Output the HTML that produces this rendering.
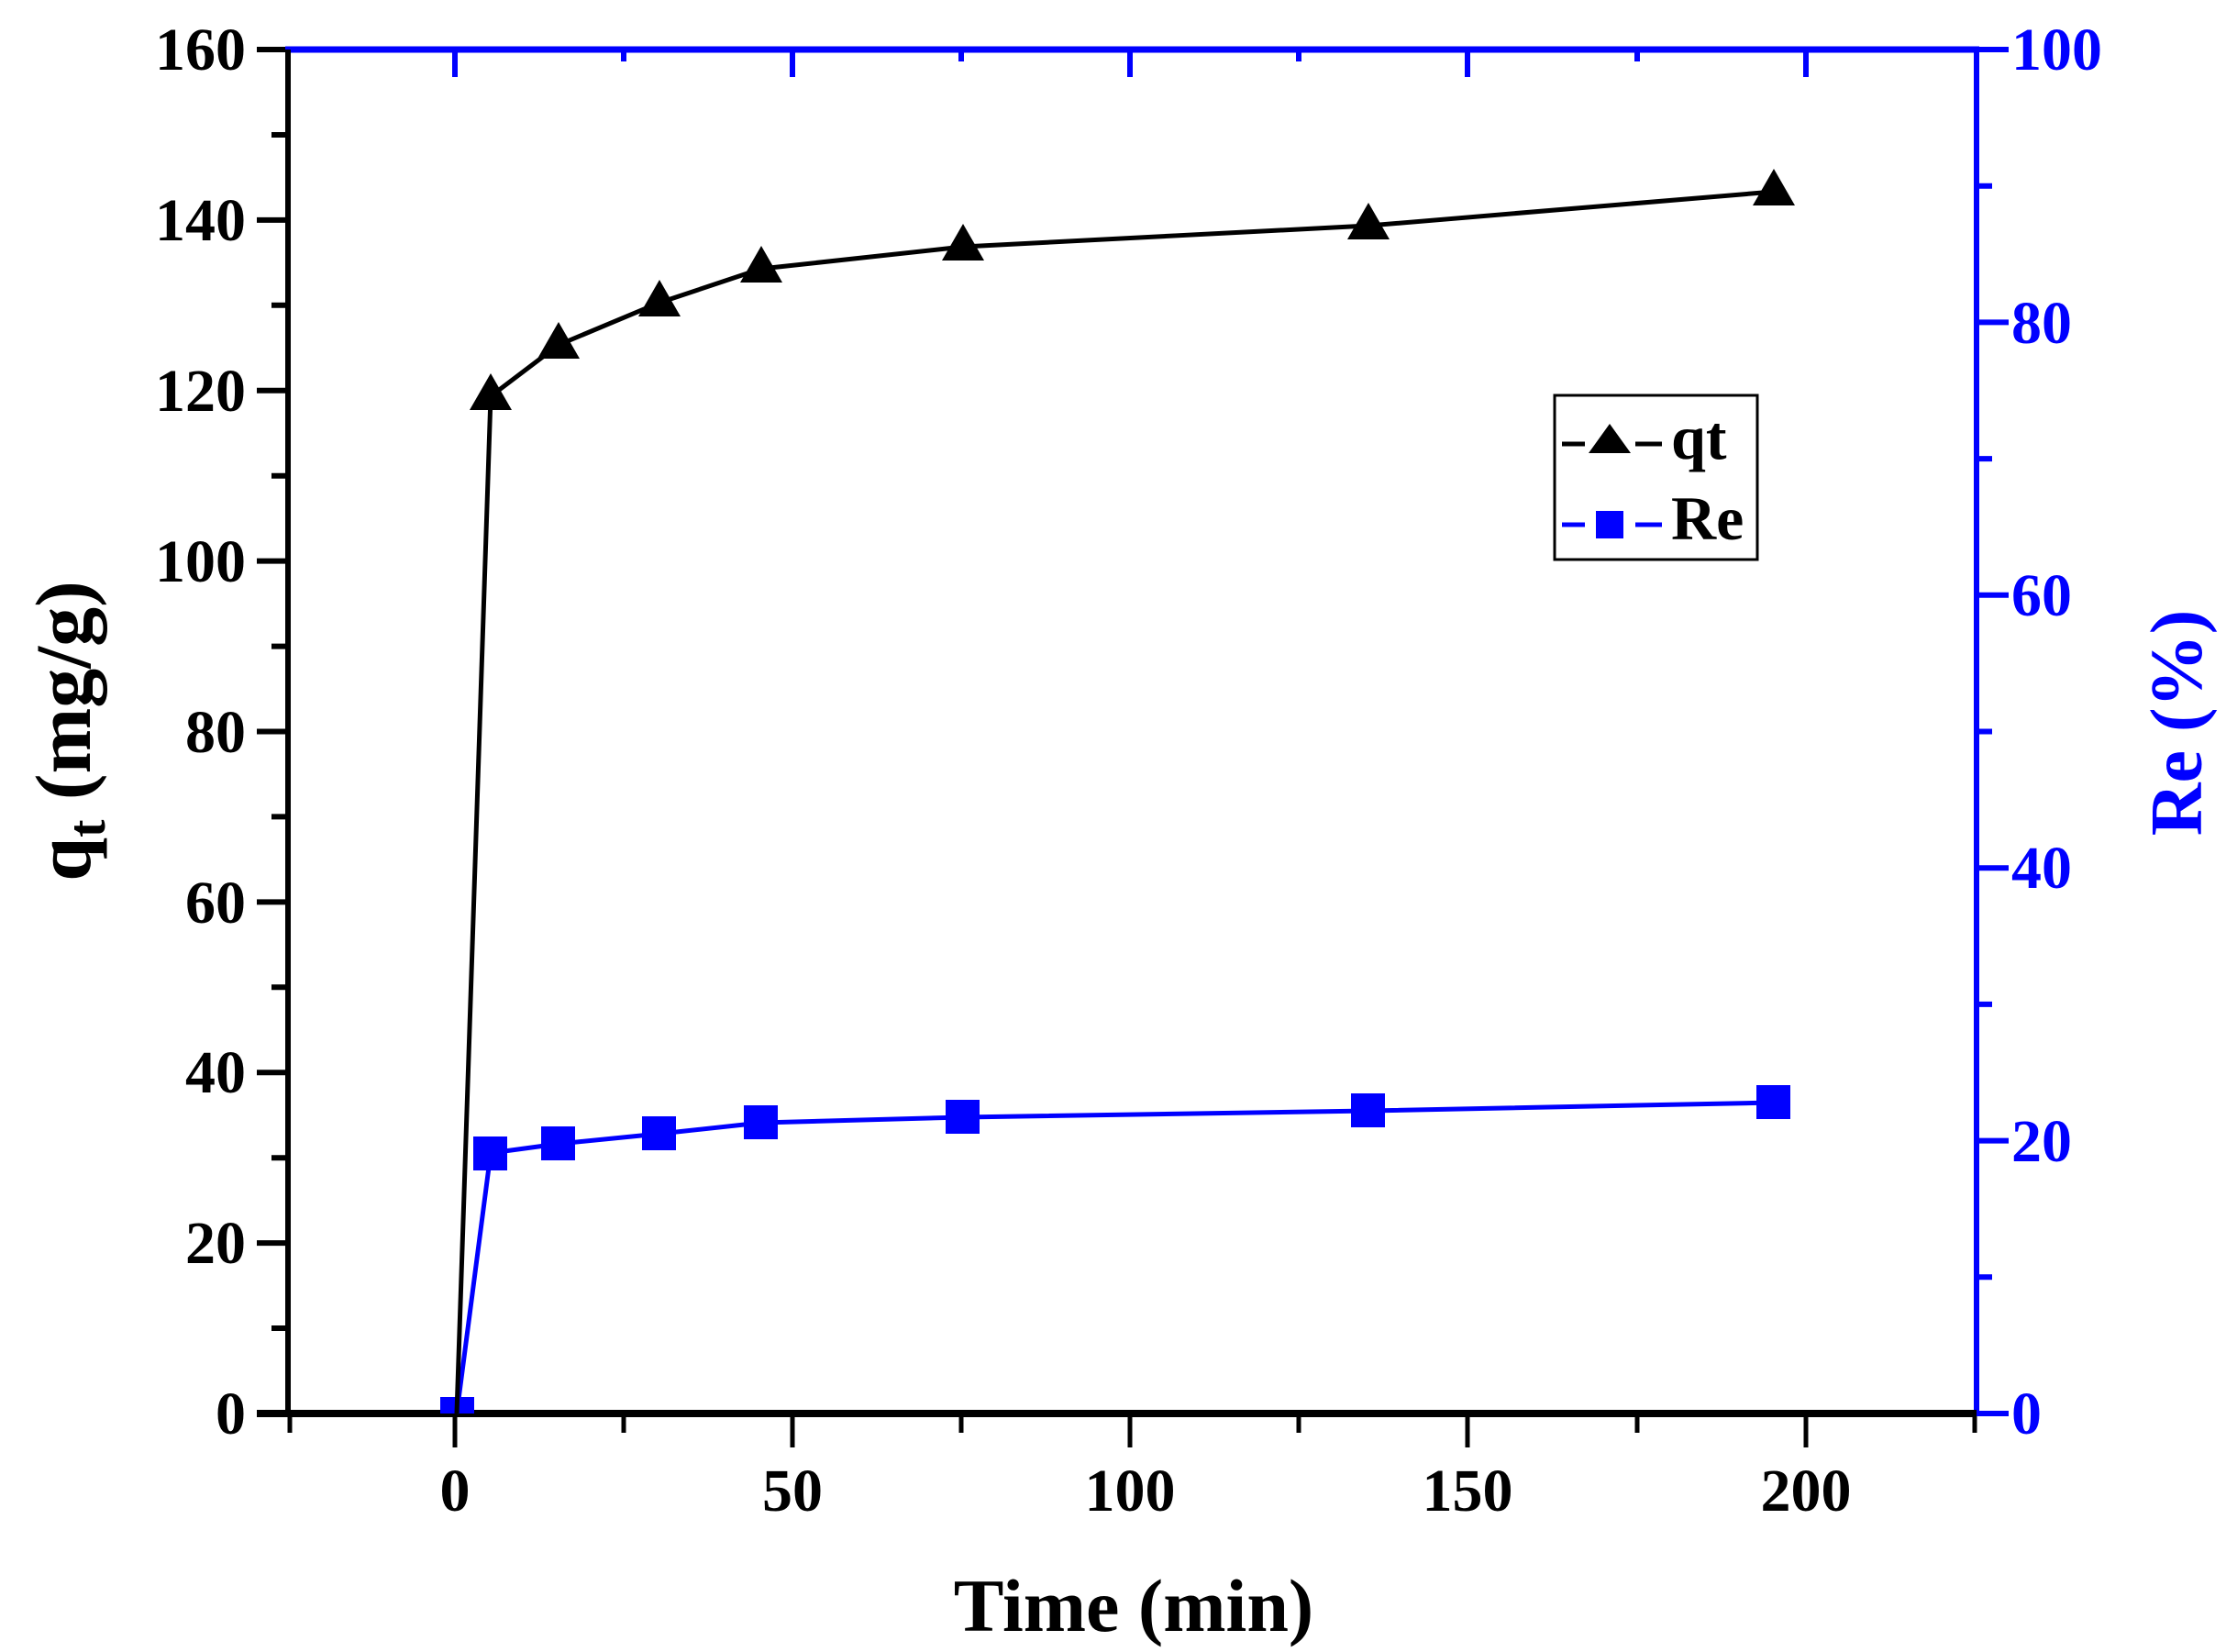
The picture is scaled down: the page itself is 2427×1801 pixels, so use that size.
<!DOCTYPE html>
<html><head><meta charset="utf-8"><style>
html,body{margin:0;padding:0;background:#fff;}
svg{display:block;}
text{font-family:"Liberation Serif",serif;font-weight:bold;}
</style></head><body>
<svg width="2427" height="1801" viewBox="0 0 2427 1801" xmlns="http://www.w3.org/2000/svg">
<g stroke="#000" stroke-width="6">
<line x1="280" y1="54" x2="314" y2="54"/><line x1="280" y1="239.9" x2="314" y2="239.9"/>
<line x1="280" y1="425.7" x2="314" y2="425.7"/><line x1="280" y1="611.6" x2="314" y2="611.6"/>
<line x1="280" y1="797.5" x2="314" y2="797.5"/><line x1="280" y1="983.4" x2="314" y2="983.4"/>
<line x1="280" y1="1169.2" x2="314" y2="1169.2"/><line x1="280" y1="1355.1" x2="314" y2="1355.1"/>
<line x1="280" y1="1541" x2="314" y2="1541"/>
<line x1="296" y1="147" x2="314" y2="147"/><line x1="296" y1="332.8" x2="314" y2="332.8"/>
<line x1="296" y1="518.7" x2="314" y2="518.7"/><line x1="296" y1="704.6" x2="314" y2="704.6"/>
<line x1="296" y1="890.4" x2="314" y2="890.4"/><line x1="296" y1="1076.3" x2="314" y2="1076.3"/>
<line x1="296" y1="1262.2" x2="314" y2="1262.2"/><line x1="296" y1="1448" x2="314" y2="1448"/>
</g>
<g stroke="#000" stroke-width="5">
<line x1="496" y1="1541" x2="496" y2="1578"/><line x1="864" y1="1541" x2="864" y2="1578"/>
<line x1="1232" y1="1541" x2="1232" y2="1578"/><line x1="1600" y1="1541" x2="1600" y2="1578"/>
<line x1="1969" y1="1541" x2="1969" y2="1578"/>
<line x1="316" y1="1541" x2="316" y2="1562"/><line x1="680" y1="1541" x2="680" y2="1562"/>
<line x1="1048" y1="1541" x2="1048" y2="1562"/><line x1="1416" y1="1541" x2="1416" y2="1562"/>
<line x1="1785" y1="1541" x2="1785" y2="1562"/><line x1="2153" y1="1541" x2="2153" y2="1562"/>
</g>
<g stroke="#0000ff" stroke-width="6">
<line x1="496" y1="54" x2="496" y2="84"/><line x1="864" y1="54" x2="864" y2="84"/>
<line x1="1232" y1="54" x2="1232" y2="84"/><line x1="1600" y1="54" x2="1600" y2="84"/>
<line x1="1969" y1="54" x2="1969" y2="84"/>
<line x1="680" y1="54" x2="680" y2="67"/><line x1="1048" y1="54" x2="1048" y2="67"/>
<line x1="1416" y1="54" x2="1416" y2="67"/><line x1="1785" y1="54" x2="1785" y2="67"/>
</g>
<g stroke="#0000ff" stroke-width="6">
<line x1="2155" y1="54" x2="2190" y2="54"/><line x1="2155" y1="351.4" x2="2190" y2="351.4"/>
<line x1="2155" y1="648.8" x2="2190" y2="648.8"/><line x1="2155" y1="946.2" x2="2190" y2="946.2"/>
<line x1="2155" y1="1243.6" x2="2190" y2="1243.6"/><line x1="2155" y1="1541" x2="2190" y2="1541"/>
<line x1="2155" y1="202.7" x2="2172" y2="202.7"/><line x1="2155" y1="500.1" x2="2172" y2="500.1"/>
<line x1="2155" y1="797.5" x2="2172" y2="797.5"/><line x1="2155" y1="1094.9" x2="2172" y2="1094.9"/>
<line x1="2155" y1="1392.3" x2="2172" y2="1392.3"/>
</g>
<line x1="311" y1="54" x2="2158" y2="54" stroke="#0000ff" stroke-width="7"/>
<line x1="2155" y1="51" x2="2155" y2="1544" stroke="#0000ff" stroke-width="6"/>
<line x1="314" y1="54" x2="314" y2="1544" stroke="#000" stroke-width="6"/>
<line x1="280" y1="1541" x2="2155" y2="1541" stroke="#000" stroke-width="8"/>
<polyline fill="none" stroke="#0000ff" stroke-width="5" points="498,1541 535,1257 609,1247 719,1236 830,1224 1050,1218 1492,1211 1934,1202"/>
<g fill="#0000ff">
<rect x="480" y="1523" width="37" height="18"/>
<rect x="516" y="1239" width="37" height="37"/><rect x="590" y="1228" width="37" height="37"/>
<rect x="700" y="1217" width="37" height="37"/><rect x="811" y="1205" width="37" height="37"/>
<rect x="1031" y="1199" width="37" height="37"/><rect x="1473" y="1192" width="37" height="37"/>
<rect x="1915" y="1183" width="37" height="37"/>
</g>
<polyline fill="none" stroke="#000" stroke-width="5" points="498,1541 535,432 609,376 719,330 830,293 1050,269 1492,246 1934,209"/>
<g fill="#000">
<polygon points="535,407 512,447 558,447"/>
<polygon points="609,351 586,391 632,391"/>
<polygon points="719,305 696,345 742,345"/>
<polygon points="830,268 807,308 853,308"/>
<polygon points="1050,244 1027,284 1073,284"/>
<polygon points="1492,221 1469,261 1515,261"/>
<polygon points="1934,184 1911,224 1957,224"/>
</g>
<rect x="1695" y="431" width="221" height="179" fill="#fff" stroke="#000" stroke-width="3"/>
<line x1="1703" y1="484" x2="1728" y2="484" stroke="#000" stroke-width="5"/>
<line x1="1783" y1="484" x2="1812" y2="484" stroke="#000" stroke-width="5"/>
<polygon points="1755,462 1732,494 1778,494" fill="#000"/>
<line x1="1703" y1="572" x2="1728" y2="572" stroke="#0000ff" stroke-width="5"/>
<line x1="1783" y1="572" x2="1812" y2="572" stroke="#0000ff" stroke-width="5"/>
<rect x="1740" y="557" width="30" height="30" fill="#0000ff"/>
<text x="1822" y="500" font-size="68" fill="#000">qt</text>
<text x="1822" y="588" font-size="68" fill="#000">Re</text>
<g font-size="66" fill="#000" text-anchor="end">
<text x="268" y="76">160</text><text x="268" y="262">140</text><text x="268" y="448">120</text>
<text x="268" y="634">100</text><text x="268" y="820">80</text><text x="268" y="1006">60</text>
<text x="268" y="1191">40</text><text x="268" y="1377">20</text><text x="268" y="1563">0</text>
</g>
<g font-size="66" fill="#0000ff">
<text x="2193" y="76">100</text><text x="2193" y="374">80</text><text x="2193" y="671">60</text>
<text x="2193" y="968">40</text><text x="2193" y="1266">20</text><text x="2193" y="1563">0</text>
</g>
<g font-size="66" fill="#000" text-anchor="middle">
<text x="496" y="1647">0</text><text x="864" y="1647">50</text><text x="1232" y="1647">100</text>
<text x="1600" y="1647">150</text><text x="1969" y="1647">200</text>
</g>
<text x="1236" y="1778" font-size="82" text-anchor="middle" fill="#000">Time (min)</text>
<text transform="translate(98,797) rotate(-90)" font-size="86" text-anchor="middle" fill="#000">q<tspan font-size="58" dy="16">t</tspan><tspan dy="-16"> (mg/g)</tspan></text>
<text transform="translate(2400,788) rotate(-90)" font-size="80" text-anchor="middle" fill="#0000ff">Re (%)</text>
</svg>
</body></html>
